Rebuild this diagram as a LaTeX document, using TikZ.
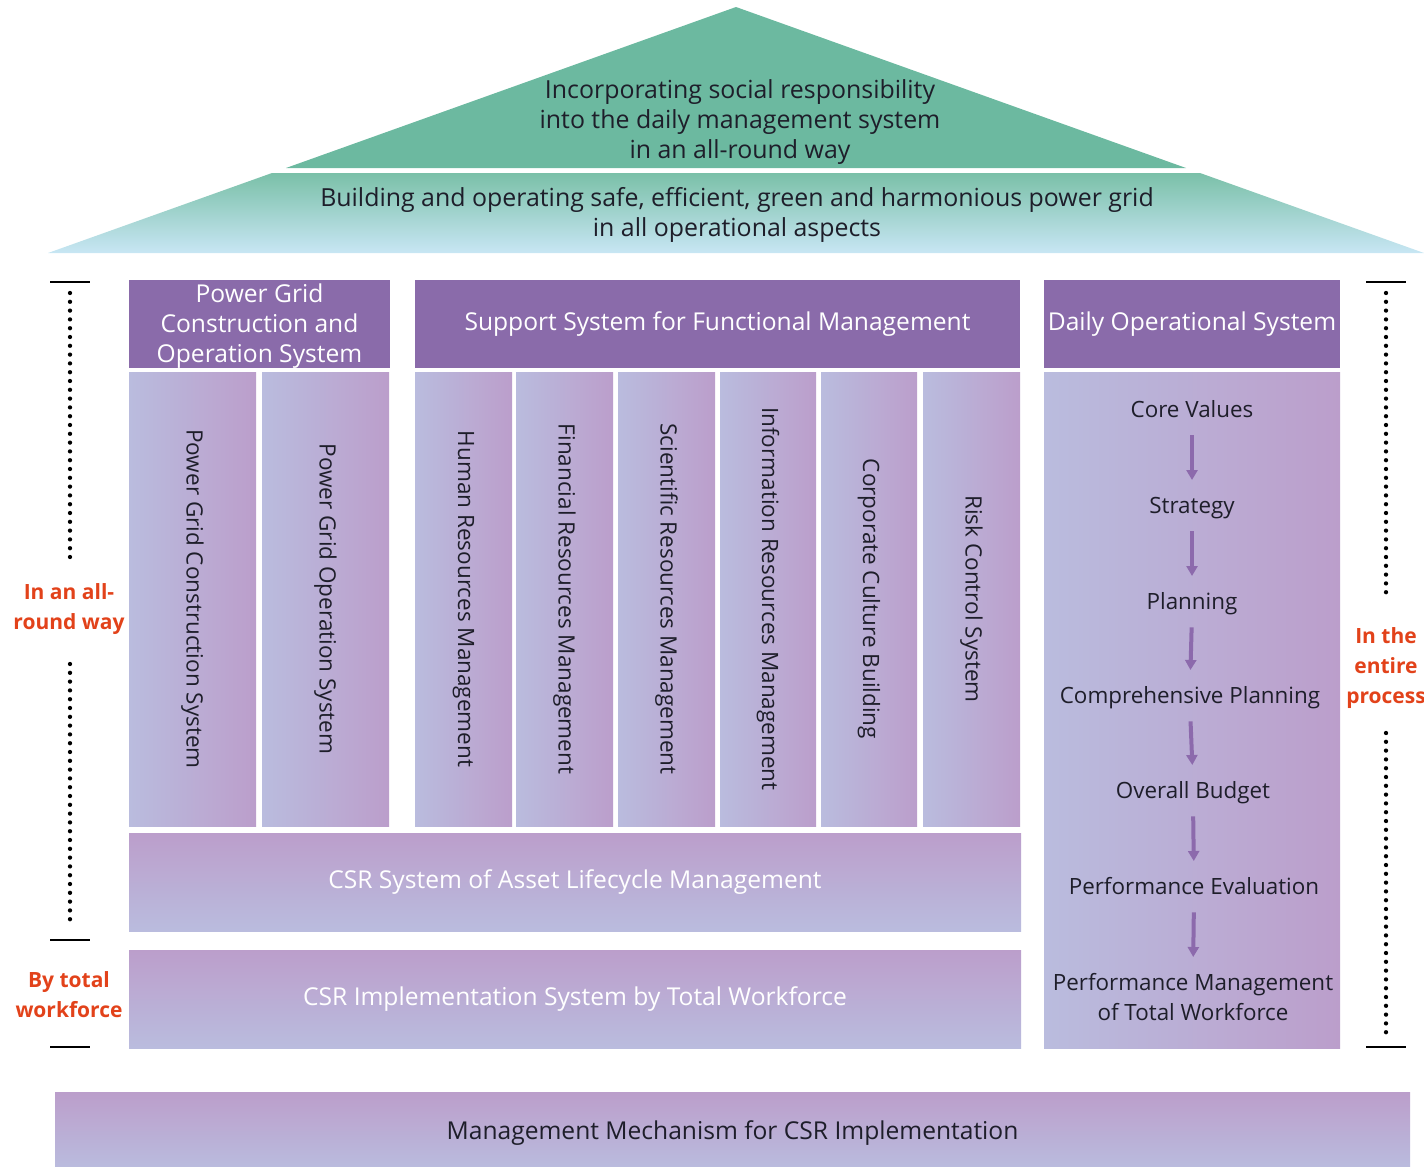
\documentclass[tikz,border=0pt]{standalone}
\usepackage{fontspec}
\setmainfont{Open Sans}
\usetikzlibrary{arrows.meta}
\definecolor{hdrpurple}{RGB}{138,107,170}
\definecolor{lav}{RGB}{186,188,222}
\definecolor{mauve}{RGB}{187,158,203}
\definecolor{roofgreen}{RGB}{108,185,160}
\definecolor{roofmid}{RGB}{122,192,168}
\definecolor{roofblue}{RGB}{200,230,244}
\definecolor{accent}{RGB}{226,66,26}
\definecolor{ink}{RGB}{30,30,42}
\definecolor{arrowpurple}{RGB}{140,106,172}
\tikzset{
  box/.style={draw=none, inner sep=0pt, outer sep=0pt, anchor=north west},
  hdr/.style={box, fill=hdrpurple, text=white, align=center, font=\fontsize{24.6}{30}\selectfont},
  colbox/.style={box, left color=lav, right color=mauve, text=ink, font=\fontsize{22.5}{30}\selectfont},
  rowbox/.style={box, top color=mauve, bottom color=lav, font=\fontsize{24.6}{30}\selectfont},
  item/.style={text=ink, align=center, inner sep=0pt, anchor=north, font=\fontsize{22.4}{30}\selectfont},
  flow/.style={arrowpurple, line width=4pt, -{Triangle[length=10pt,width=11pt]}, shorten <=13pt, shorten >=16pt},
  bar/.style={line width=2.5pt, black},
  dots/.style={line width=4.3pt, dash pattern=on 0pt off 8.8pt, line cap=round, black},
  side/.style={text=accent, align=center, inner sep=0pt, font=\fontsize{21}{30}\selectfont\bfseries},
  rooftext/.style={text=ink, align=center, inner sep=0pt, font=\fontsize{24.9}{30}\selectfont}
}
\begin{document}
\begin{tikzpicture}[x=1pt,y=-1pt]
\useasboundingbox (0,0) rectangle (1424,1167);
% roof
\fill[roofgreen] (736,7) -- (1186,168) -- (286,168) -- cycle;
\shade[top color=roofmid, bottom color=roofblue] (272,173) -- (1200,173) -- (1424,253) -- (48,253) -- cycle;
\node[rooftext] (roof1) at (740,122) {Incorporating social responsibility\\into the daily management system\\in an all-round way};
\node[rooftext] (roof2) at (737,215) {Building and operating safe, efficient, green and harmonious power grid\\in all operational aspects};
% headers
\node[hdr, minimum width=261pt, minimum height=88pt, text depth=2pt] (h1) at (129,280) {Power Grid\\Construction and\\Operation System};
\node[hdr, minimum width=605pt, minimum height=88pt] (h2) at (415,280) {Support System for Functional Management};
\node[hdr, minimum width=296pt, minimum height=88pt] (h3) at (1044,280) {Daily Operational System};
% columns
\node[colbox, minimum width=127pt, minimum height=454pt] (c1) at (129,372) {\rotatebox{-90}{Power Grid Construction System}};
\node[colbox, minimum width=127pt, minimum height=454pt] (c2) at (262,372) {\rotatebox{-90}{Power Grid Operation System}};
\node[colbox, minimum width=97pt, minimum height=454pt] (c3) at (415,372) {\rotatebox{-90}{Human Resources Management}};
\node[colbox, minimum width=97pt, minimum height=454pt] (c4) at (516,372) {\rotatebox{-90}{Financial Resources Management}};
\node[colbox, minimum width=97pt, minimum height=454pt] (c5) at (618,372) {\rotatebox{-90}{Scientific Resources Management}};
\node[colbox, minimum width=96pt, minimum height=454pt] (c6) at (720,372) {\rotatebox{-90}{Information Resources Management}};
\node[colbox, minimum width=96pt, minimum height=454pt] (c7) at (821,372) {\rotatebox{-90}{Corporate Culture Building}};
\node[colbox, minimum width=97pt, minimum height=454pt] (c8) at (923,372) {\rotatebox{-90}{Risk Control System}};
% rows
\node[rowbox, minimum width=892pt, minimum height=98pt, text=white] (r1) at (129,833) {CSR System of Asset Lifecycle Management};
\node[rowbox, minimum width=892pt, minimum height=98pt, text=white] (r2) at (129,950) {CSR Implementation System by Total Workforce};
\node[rowbox, minimum width=1355pt, minimum height=77pt, text=ink, text height=17pt, text depth=0pt] (r3) at (55,1092) {Management Mechanism for CSR Implementation};
% daily operational column
\node[colbox, minimum width=296pt, minimum height=676pt] (d) at (1044,372) {};
\node[item, text height=17pt, text depth=5pt] (cv) at (1192,400) {Core Values};
\node[item, text height=17pt, text depth=5pt] (st) at (1192,496) {Strategy};
\node[item, text height=17pt, text depth=5pt] (pl) at (1192,592) {Planning};
\node[item, text height=17pt, text depth=5pt] (cp) at (1190,686) {Comprehensive Planning};
\node[item, text height=17pt, text depth=5pt] (ob) at (1193,781) {Overall Budget};
\node[item, text height=17pt, text depth=5pt] (pe) at (1194,877) {Performance Evaluation};
\node[item] (pm) at (1193,973) {Performance Management\\of Total Workforce};
\draw[flow] (cv.south) -- (st.north);
\draw[flow] (st.south) -- (pl.north);
\draw[flow] (pl.south) -- (cp.north);
\draw[flow] (cp.south) -- (ob.north);
\draw[flow] (ob.south) -- (pe.north);
\draw[flow] (pe.south) -- (pm.north);
% left side markers
\coordinate (lt1) at (50,282); \coordinate (lt2) at (90,282);
\coordinate (lm1) at (50,940); \coordinate (lm2) at (90,940);
\coordinate (lb1) at (50,1047); \coordinate (lb2) at (90,1047);
\draw[bar] (lt1) -- (lt2);
\draw[bar] (lm1) -- (lm2);
\draw[bar] (lb1) -- (lb2);
\node[side] (lab1) at (69,609) {In an all-\\round way};
\node[side] (lab2) at (69,995) {By total\\workforce};
\coordinate (ld1) at (70,293); \coordinate (ld2) at (70,557);
\coordinate (ld3) at (70,664); \coordinate (ld4) at (70,926);
\draw[dots] (ld1) -- (ld2);
\draw[dots] (ld3) -- (ld4);
% right side markers
\coordinate (rt1) at (1366,282); \coordinate (rt2) at (1406,282);
\coordinate (rb1) at (1366,1047); \coordinate (rb2) at (1406,1047);
\draw[bar] (rt1) -- (rt2);
\draw[bar] (rb1) -- (rb2);
\node[side] (lab3) at (1386,668) {In the\\entire\\process};
\coordinate (rd1) at (1386,293); \coordinate (rd2) at (1386,597);
\coordinate (rd3) at (1386,733); \coordinate (rd4) at (1386,1035);
\draw[dots] (rd1) -- (rd2);
\draw[dots] (rd3) -- (rd4);
\end{tikzpicture}
\end{document}
